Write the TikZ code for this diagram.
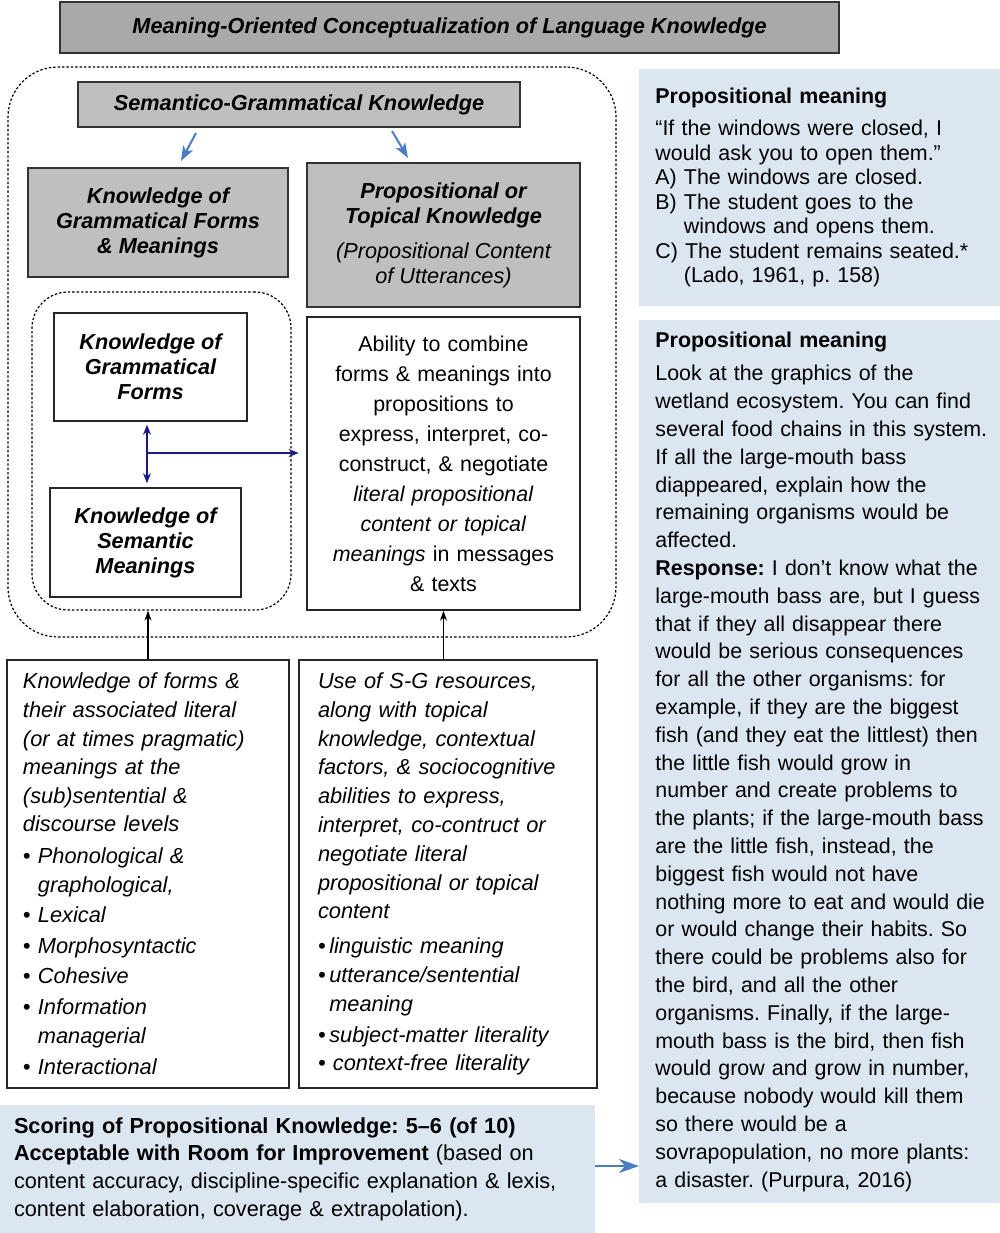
\documentclass[tikz,border=0pt]{standalone}
\usepackage{fontspec}
\setmainfont{Liberation Sans}
\usetikzlibrary{arrows.meta}
\frenchspacing

\definecolor{titlegray}{HTML}{A9A9A9}
\definecolor{boxgray}{HTML}{BFBFBF}
\definecolor{panelblue}{HTML}{DCE6F1}
\definecolor{arrowblue}{HTML}{4A7EC0}
\definecolor{linknavy}{HTML}{1A1A8A}

\tikzset{
  graybox/.style={draw=black!80, line width=1pt, fill=boxgray, align=center, inner sep=0pt, font=\fontsize{10.85}{12.5}\selectfont\bfseries\itshape},
  whitebox/.style={draw=black!85, line width=0.8pt, fill=white, align=center, inner sep=0pt, font=\fontsize{10.85}{12.5}\selectfont\bfseries\itshape},
  textbox/.style={draw=black!85, line width=0.8pt, fill=white, inner ysep=0pt},
  dotbox/.style={draw, line width=0.6pt, dash pattern=on 1.2pt off 1pt, inner sep=0pt},
  panel/.style={fill=panelblue, anchor=west, align=left, inner xsep=8pt, inner ysep=0pt, text width=180pt},
  bluearrow/.style={draw=arrowblue, line width=1pt, -{Stealth[length=7.5pt,width=5.5pt,inset=2pt]}},
  navyarrow/.style={draw=linknavy, line width=0.75pt, -{Stealth[length=5pt,width=4pt]}},
  blackarrow/.style={draw=black, line width=0.6pt, -{Stealth[length=5pt,width=3.5pt]}}
}

\begin{document}
\begin{tikzpicture}[x=0.5pt, y=-0.5pt]

\path[use as bounding box, fill=white] (0,0) rectangle (1000,1233);

\node[graybox, fill=titlegray, minimum width=389.5pt, minimum height=25.5pt] (title) at (449.5,27.5) {Meaning-Oriented Conceptualization of Language Knowledge};

% semantico-grammatical part
\node[dotbox, rounded corners=25pt, minimum width=304pt, minimum height=285pt] (outer) at (312,352) {};
\node[graybox, minimum width=221pt, minimum height=22.5pt] (sgk) at (299,104.5) {Semantico-Grammatical Knowledge};
\node[graybox, minimum width=130pt, minimum height=54.5pt] (gfm) at (158,222.5) {Knowledge of\\Grammatical Forms\\\& Meanings};
\node[graybox, minimum width=136.5pt, minimum height=72pt] (ptk) at (443.5,235) {Propositional or\\Topical Knowledge\\[5pt]\mdseries(Propositional Content\\\mdseries of Utterances)};

\node[dotbox, rounded corners=18pt, minimum width=129.5pt, minimum height=159pt] (inner) at (161.5,451) {};
\node[whitebox, minimum width=96.5pt, minimum height=54pt] (gf) at (150.5,367) {Knowledge of\\Grammatical\\Forms};
\node[whitebox, minimum width=95.5pt, minimum height=54.5pt] (sm) at (145.5,542.5) {Knowledge of\\Semantic\\Meanings};

\node[textbox, align=center, text width=130pt, inner xsep=3.25pt, minimum height=146.5pt, font=\fontsize{10.7}{15}\selectfont] (ability) at (443.5,463.5) {Ability to combine\\forms \& meanings into\\propositions to\\express, interpret, co-\\construct, \& negotiate\\\textit{literal propositional}\\\textit{content or topical}\\\textit{meanings} in messages\\\& texts};

% lower boxes
\node[textbox, align=left, text width=125pt, inner xsep=8pt, minimum height=214pt, font=\fontsize{10.9}{14.3}\selectfont\itshape] (forms) at (148,874) {Knowledge of forms \&\\their associated literal\\(or at times pragmatic)\\meanings at the\\(sub)sentential \&\\discourse levels\\[1.5pt]• Phonological \&\\\hphantom{•~}graphological,\\[1pt]• Lexical\\[1pt]• Morphosyntactic\\[1pt]• Cohesive\\[1pt]• Information\\\hphantom{•~}managerial\\[1.5pt]• Interactional};
\node[textbox, align=left, text width=130pt, inner xsep=9.5pt, minimum height=214pt, font=\fontsize{10.9}{14.4}\selectfont\itshape] (usesg) at (448,874) {Use of S-G resources,\\along with topical\\knowledge, contextual\\factors, \& sociocognitive\\abilities to express,\\interpret, co-contruct or\\negotiate literal\\propositional or topical\\content\\[3pt]•\,linguistic meaning\\•\,utterance/sentential\\\hphantom{•\,}meaning\\[1pt]•\,subject-matter literality\\• context-free literality};

\node[fill=panelblue, align=left, text width=283.5pt, inner xsep=7pt, inner ysep=0pt, minimum height=64pt, font=\fontsize{10.85}{13.85}\selectfont] (score) at (297.5,1169) {\textbf{Scoring of Propositional Knowledge: 5–6 (of 10)}\\\textbf{Acceptable with Room for Improvement} (based on\\content accuracy, discipline-specific explanation \& lexis,\\content elaboration, coverage \& extrapolation).};

% example panels
\node[panel, minimum height=118.5pt, font=\fontsize{10.7}{12.25}\selectfont] (ex1) at (639,187.5) {\textbf{Propositional meaning}\\[3.75pt]“If the windows were closed, I\\would ask you to open them.”\\A) The windows are closed.\\B) The student goes to the\\\hphantom{B)~}windows and opens them.\\C) The student remains seated.*\\\hphantom{B)~}(Lado, 1961, p. 158)};
\node[panel, minimum height=441.5pt, font=\fontsize{10.7}{13.9}\selectfont] (ex2) at (639,761.5) {\textbf{Propositional meaning}\\[3pt]Look at the graphics of the\\wetland ecosystem. You can find\\several food chains in this system.\\If all the large-mouth bass\\diappeared, explain how the\\remaining organisms would be\\affected.\\\textbf{Response:} I don’t know what the\\large-mouth bass are, but I guess\\that if they all disappear there\\would be serious consequences\\for all the other organisms: for\\example, if they are the biggest\\fish (and they eat the littlest) then\\the little fish would grow in\\number and create problems to\\the plants; if the large-mouth bass\\are the little fish, instead, the\\biggest fish would not have\\nothing more to eat and would die\\or would change their habits. So\\there could be problems also for\\the bird, and all the other\\organisms. Finally, if the large-\\mouth bass is the bird, then fish\\would grow and grow in number,\\because nobody would kill them\\so there would be a\\sovrapopulation, no more plants:\\a disaster. (Purpura, 2016)\\[-4pt]};

% connectors
\draw[bluearrow] ([shift={(-103,5)}]sgk.south) -- ([shift={(23,-6)}]gfm.north);
\draw[bluearrow] ([shift={(93,3)}]sgk.south) -- ([shift={(-35.5,-4)}]ptk.north);

\coordinate (junc) at (147,453);
\draw[navyarrow, {Stealth[length=5pt,width=4pt]}-{Stealth[length=5pt,width=4pt]}, shorten <=1.5pt, shorten >=2pt] (gf.south -| junc) -- (sm.north -| junc);
\draw[navyarrow] (junc) -- ([xshift=3.5pt]junc -| inner.east);

\draw[blackarrow] (forms.north) -- (forms.north |- inner.south);
\draw[blackarrow] (ability.south |- usesg.north) -- (ability.south);

\draw[bluearrow, -{Stealth[length=10pt,width=7pt,inset=3pt]}] ([yshift=1.5pt]score.east) -- ([yshift=1.5pt]score.east -| ex2.west);

\end{tikzpicture}
\end{document}
